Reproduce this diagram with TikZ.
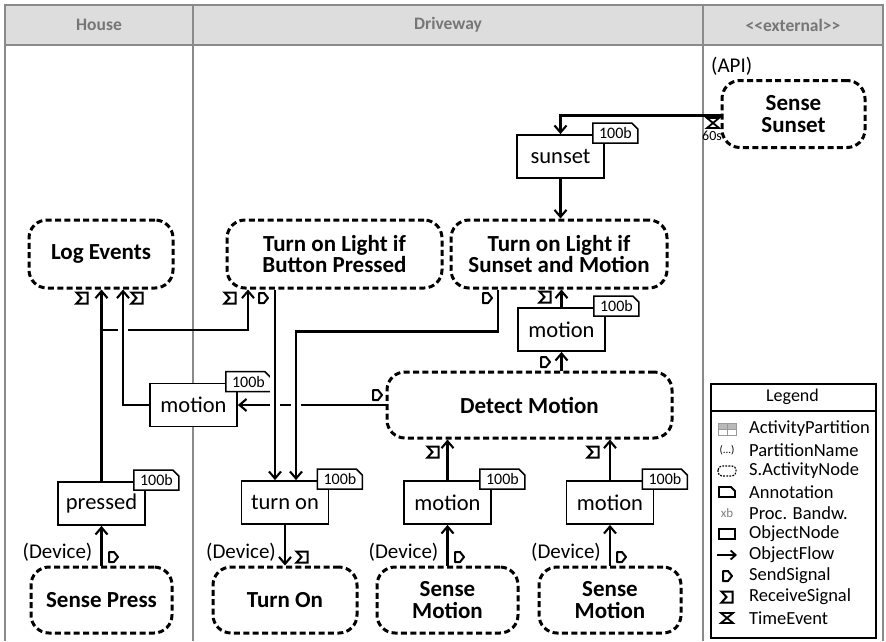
\documentclass[tikz,border=0pt]{standalone}
\usepackage{fontspec}
\setmainfont{Carlito}
\usetikzlibrary{arrows.meta}

\definecolor{partline}{HTML}{8A8A8A}
\definecolor{partfill}{HTML}{DDDDDD}
\definecolor{parttext}{HTML}{767676}

\tikzset{
  flow/.style={line width=2.1pt,-{Straight Barb[length=7pt,width=12pt]}},
  jump/.style={preaction={draw=white,line width=10pt,shorten <=6pt,shorten >=11pt,-}},
  act/.style={draw,fill=white,line width=3pt,dash pattern=on 6pt off 3.4pt,
    rounded corners=18pt,align=center,inner sep=0pt,
    font=\bfseries\fontsize{23}{21.5}\selectfont},
  obj/.style={draw,fill=white,line width=1.8pt,minimum width=87pt,minimum height=43pt,
    inner sep=0pt,font=\fontsize{22.5}{22.5}\selectfont},
  parthead/.style={font=\bfseries\fontsize{17.5}{17.5}\selectfont,text=parttext,inner sep=0pt},
  pname/.style={font=\fontsize{21}{21}\selectfont,inner sep=0pt},
  legtext/.style={font=\fontsize{18.5}{18.5}\selectfont,inner sep=0pt,anchor=west},
  sendsig/.pic={\draw[line width=2pt,line join=round]
    (-4,-5) -- (1,-5) -- (5,0) -- (1,5) -- (-4,5) -- cycle;},
  recvsig/.pic={\draw[line width=2pt,line join=miter]
    (-5.5,-5.5) -- (5.5,-5.5) -- (5.5,5.5) -- (-5.5,5.5) -- (-0.5,0) -- cycle;},
  timeev/.pic={\draw[line width=1.8pt]
    (-6,-5) -- (6,-5) -- (-6,5) -- (6,5) -- cycle;},
  memtag/.pic={\draw[fill=white,line width=1.5pt]
    (-12,-11) -- (27,-11) -- (33,-5) -- (33,9) -- (-12,9) -- cycle;
    \node[font=\fontsize{16}{16}\selectfont,inner sep=0pt] (-t) at (10.5,-1) {100b};},
}

\begin{document}
\begin{tikzpicture}[x=1pt,y=-1pt]
\useasboundingbox (0,0) rectangle (886,641);

% activity partitions
\fill[partfill] (5,5) rectangle (883,45);
\draw[partline,line width=1.8pt] (5,641) -- (5,5) -- (883,5) -- (883,641);
\draw[partline,line width=1.8pt] (5,45) -- (883,45);
\draw[partline,line width=1.8pt] (193,5) -- (193,641);
\draw[partline,line width=1.8pt] (703,5) -- (703,641);
\node[parthead] (hHouse) at (99,25) {House};
\node[parthead] (hDrive) at (448,25) {Driveway};
\node[parthead] (hExt) at (793,25) {<\kern0pt<external>\kern0pt>};

% activity nodes
\node[act,minimum width=143pt,minimum height=67pt] (ss) at (793.5,114) {Sense\\Sunset};
\node[pname,anchor=west] (api) at (711,66) {(API)};
\node[act,minimum width=144pt,minimum height=68pt] (le) at (101,254) {Log Events};
\node[act,minimum width=215pt,minimum height=68pt] (tbp) at (334.5,254) {Turn on Light if\\Button Pressed};
\node[act,minimum width=216pt,minimum height=68pt] (tsm) at (559,254) {Turn on Light if\\Sunset and Motion};
\node[act,minimum width=285pt,minimum height=66pt] (dm) at (529.5,405) {Detect Motion};
\node[act,minimum width=141pt,minimum height=66pt] (sp) at (101.5,600) {Sense Press};
\node[act,minimum width=144pt,minimum height=66pt] (tn) at (285,600) {Turn On};
\node[act,minimum width=141pt,minimum height=66pt] (sm1) at (447.5,600) {Sense\\Motion};
\node[act,minimum width=142pt,minimum height=66pt] (sm2) at (610,600) {Sense\\Motion};

% object nodes
\node[obj] (sun) at (560.5,156.5) {sunset};
\node[obj] (mu) at (561.5,329.5) {motion};
\node[obj] (ml) at (193.5,405) {motion};
\node[obj] (pr) at (101.5,503.5) {pressed};
\node[obj] (ton) at (285,502.5) {turn on};
\node[obj] (m1) at (447.5,502.5) {motion};
\node[obj] (m2) at (610,502.5) {motion};

% bandwidth tags
\pic (tgSun) at (sun.north east) {memtag};
\pic (tgMu) at (mu.north east) {memtag};
\pic (tgMl) at (ml.north east) {memtag};
\pic (tgPr) at (pr.north east) {memtag};
\pic (tgTon) at (ton.north east) {memtag};
\pic (tgM1) at (m1.north east) {memtag};
\pic (tgM2) at (m2.north east) {memtag};

% partition names of the devices
\node[pname,anchor=east] (dev1) at (92.5,552) {(Device)};
\node[pname,anchor=east] (dev2) at (276,552) {(Device)};
\node[pname,anchor=east] (dev3) at (438.5,552) {(Device)};
\node[pname,anchor=east] (dev4) at (601,552) {(Device)};

% object flows
\coordinate (br) at (101.5,330);
\draw[flow] ([yshift=-1.5pt]ss.west) -| (sun.north);
\draw[flow] (sun.south) -- (sun.south |- tsm.north);
\draw[flow] (mu.north) -- (mu.north |- tsm.south);
\draw[flow] (mu.south |- dm.north) -- (mu.south);
\draw[flow] (dm.west) -- (ml.east);
\draw[flow] (sp.north) -- (pr.south);
\draw[flow] (pr.north) -- (pr.north |- le.south);
\draw[flow] (br) -| ([xshift=-86.5pt]tbp.south);
\draw[flow,jump] (ml.west) -| ([xshift=22pt]le.south);
\draw[flow,jump] ([xshift=-10pt]ton.north |- tbp.south) -- ([xshift=-10pt]ton.north);
\draw[flow,jump] ([xshift=-61pt]tsm.south) -- ++(0,42) -| ([xshift=11pt]ton.north);
\draw[flow] (ton.south) -- (tn.north);
\draw[flow] (sm1.north) -- (m1.south);
\draw[flow] (m1.north) -- (m1.north |- dm.south);
\draw[flow] (sm2.north) -- (m2.south);
\draw[flow] (m2.north) -- (m2.north |- dm.south);

% signal and time event markers
\pic at (713,123) {timeev};
\node[font=\fontsize{14}{14}\selectfont,inner sep=0pt] (t60) at (712,136) {60s};
\pic at (82,298) {recvsig};
\pic at (137,298) {recvsig};
\pic at (230,298) {recvsig};
\pic at (263,298) {sendsig};
\pic at (487,298) {sendsig};
\pic at (545,297) {recvsig};
\pic at (545,362) {sendsig};
\pic at (377,395) {sendsig};
\pic at (433,452) {recvsig};
\pic at (593,452) {recvsig};
\pic at (113,557) {sendsig};
\pic at (302,557) {recvsig};
\pic at (459,557) {sendsig};
\pic at (621,557) {sendsig};

% legend
\node[draw,fill=white,line width=1.8pt,minimum width=165pt,minimum height=254pt,
  anchor=north west,inner sep=0pt] (lg) at (710,383) {};
\node[font=\fontsize{18}{18}\selectfont,inner sep=0pt] (lgt) at (792.5,396.5) {Legend};
\draw[line width=2pt] (lg.west |- 0,411) -- (lg.east |- 0,411);

\fill[gray!55] (718,423) rectangle (736,429);
\draw[gray!80,line width=1pt] (718,423) rectangle (736,435) (718,429) -- (736,429) (727,423) -- (727,435);
\node[legtext] (l1) at (749,429) {ActivityPartition};

\node[font=\fontsize{11}{11}\selectfont,inner sep=0pt] (i2) at (727,450) {(...)};
\node[legtext] (l2) at (749,450) {PartitionName};

\draw[line width=1.2pt,dash pattern=on 1.8pt off 1.3pt,rounded corners=4pt] (718,466) rectangle (736,476);
\node[legtext] (l3) at (749,471) {S.ActivityNode};

\draw[line width=1.8pt,line join=miter] (719,487) -- (731,487) -- (735,491) -- (735,497) -- (719,497) -- cycle;
\node[legtext] (l4) at (749,492) {Annotation};

\node[font=\fontsize{13}{13}\selectfont,text=gray,inner sep=0pt] (i5) at (727,513) {xb};
\node[legtext] (l5) at (749,513) {Proc. Bandw.};

\draw[line width=1.8pt] (719,529) rectangle (735,539);
\node[legtext] (l6) at (749,534) {ObjectNode};

\draw[line width=1.8pt,-{Straight Barb[length=5pt,width=9pt]}] (717,555) -- (737,555);
\node[legtext] (l7) at (749,555) {ObjectFlow};

\pic at (727,576) {sendsig};
\node[legtext] (l8) at (749,576) {SendSignal};
\pic at (727,597) {recvsig};
\node[legtext] (l9) at (749,597) {ReceiveSignal};
\pic at (727,618) {timeev};
\node[legtext] (l10) at (749,618) {TimeEvent};
\end{tikzpicture}
\end{document}
